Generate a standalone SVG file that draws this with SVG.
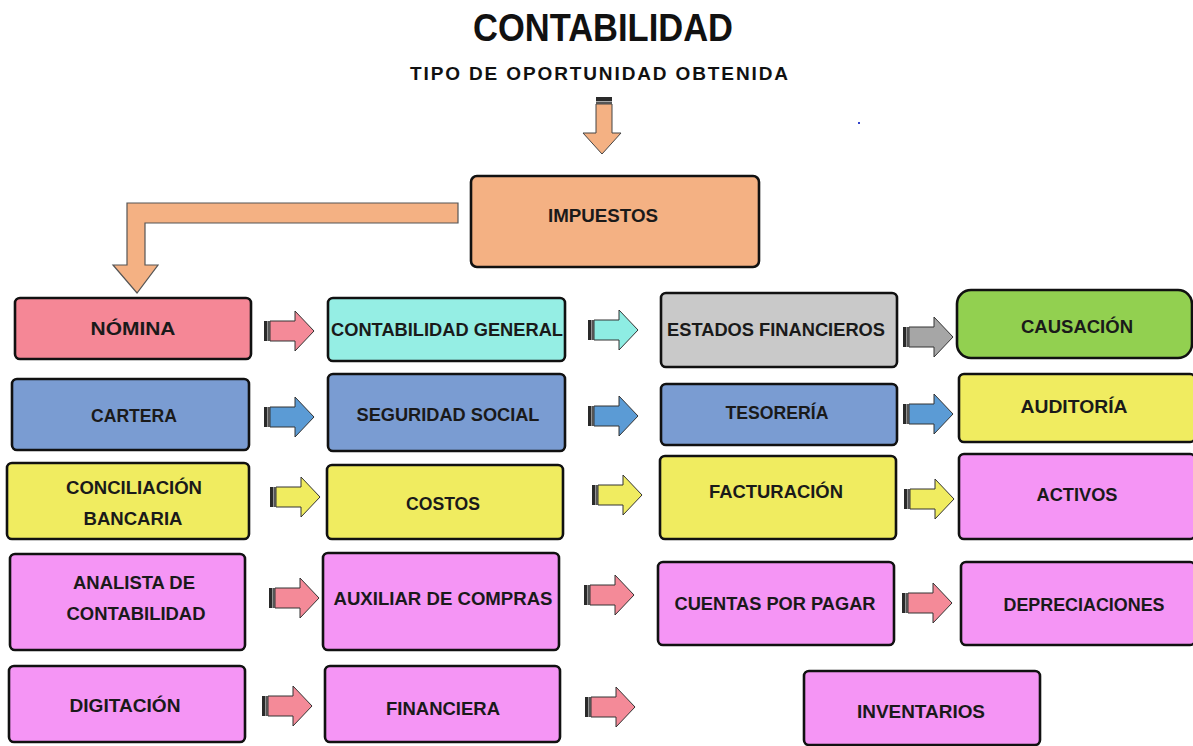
<svg xmlns="http://www.w3.org/2000/svg" xmlns:xlink="http://www.w3.org/1999/xlink" width="1193" height="746" viewBox="0 0 1193 746">
<style>
.box{stroke:#111;stroke-width:2.6}
.lbl{font-family:"Liberation Sans",Arial,sans-serif;font-weight:bold;font-size:19px;fill:#1a1a1a;text-anchor:middle}
.pink{fill:#F48A98}.cyan{fill:#8EEDE3}.gray{fill:#A6A6A6}.blue{fill:#5B9BD5}.yel{fill:#F0EC60}
</style>
<defs>
<g id="ra">
<path d="M6,10 H31 V0 L50,20 L31,40 V30 H6 Z" stroke="#333" stroke-width="1"/>
<rect x="0" y="10" width="3.5" height="20" fill="#2a2a2a"/>
<rect x="4" y="10" width="2" height="20" fill="#555"/>
</g>
</defs>
<rect width="1193" height="746" fill="#fff"/>
<g id="title">
<text x="603" y="41" font-family="'Liberation Sans',Arial,sans-serif" font-weight="bold" font-size="39" text-anchor="middle" textLength="260" lengthAdjust="spacingAndGlyphs" fill="#111">CONTABILIDAD</text>
<text x="599" y="80" font-family="'Liberation Sans',Arial,sans-serif" font-weight="bold" font-size="19" text-anchor="middle" textLength="378" lengthAdjust="spacing" fill="#111">TIPO DE OPORTUNIDAD OBTENIDA</text>
</g>
<rect x="858" y="122" width="2" height="2" fill="#3344cc"/>
<g id="connectors">
<g id="top-arrow">
<path d="M596,104 H612 V133 H621 L602,154 L583,133 H596 Z" fill="#F4B183" stroke="#444" stroke-width="1"/>
<rect x="596" y="97" width="16" height="4" fill="#2a2a2a"/>
<rect x="596" y="101.5" width="16" height="2.5" fill="#555"/>
</g>
<path d="M458,203 H127 V265 H113 L137,293 L158,265 H145 V223 H458 Z" fill="#F4B183" stroke="#555" stroke-width="1.2"/>
<g class="arr">
<use xlink:href="#ra" class="pink" transform="translate(264,311)"/>
<use xlink:href="#ra" class="cyan" transform="translate(588,310)"/>
<use xlink:href="#ra" class="gray" transform="translate(903,317)"/>
<use xlink:href="#ra" class="blue" transform="translate(264,397)"/>
<use xlink:href="#ra" class="blue" transform="translate(588,396)"/>
<use xlink:href="#ra" class="blue" transform="translate(903,394)"/>
<use xlink:href="#ra" class="yel" transform="translate(270,477)"/>
<use xlink:href="#ra" class="yel" transform="translate(592,475)"/>
<use xlink:href="#ra" class="yel" transform="translate(904,479)"/>
<use xlink:href="#ra" class="pink" transform="translate(269,578)"/>
<use xlink:href="#ra" class="pink" transform="translate(584,575)"/>
<use xlink:href="#ra" class="pink" transform="translate(902,583)"/>
<use xlink:href="#ra" class="pink" transform="translate(262,686)"/>
<use xlink:href="#ra" class="pink" transform="translate(585,687)"/>
</g>
</g>
<g id="impuestos"><rect class="box" x="471" y="176" width="288" height="91" rx="6" fill="#F4B183"/><text class="lbl" x="603" y="222" textLength="110" lengthAdjust="spacingAndGlyphs">IMPUESTOS</text></g>
<g id="nomina"><rect class="box" x="15" y="298" width="236" height="61" rx="5" fill="#F58796"/><text class="lbl" x="133" y="335" textLength="85" lengthAdjust="spacingAndGlyphs">NÓMINA</text></g>
<g id="contabilidad-general"><rect class="box" x="328" y="298" width="237" height="63" rx="5" fill="#95EEE4"/><text class="lbl" x="447" y="336" textLength="232" lengthAdjust="spacingAndGlyphs">CONTABILIDAD GENERAL</text></g>
<g id="estados-financieros"><rect class="box" x="661" y="293" width="236" height="74" rx="5" fill="#C9C9C9"/><text class="lbl" x="776" y="336" textLength="218" lengthAdjust="spacingAndGlyphs">ESTADOS FINANCIEROS</text></g>
<g id="causacion"><rect class="box" x="957" y="290" width="235" height="68" rx="14" fill="#92D050"/><text class="lbl" x="1077" y="333" textLength="112" lengthAdjust="spacingAndGlyphs">CAUSACIÓN</text></g>
<g id="cartera"><rect class="box" x="12" y="379" width="237" height="71" rx="5" fill="#7A9CD2"/><text class="lbl" x="134" y="422" textLength="86" lengthAdjust="spacingAndGlyphs">CARTERA</text></g>
<g id="seguridad-social"><rect class="box" x="328" y="374" width="237" height="77" rx="5" fill="#7A9CD2"/><text class="lbl" x="448" y="421" textLength="183" lengthAdjust="spacingAndGlyphs">SEGURIDAD SOCIAL</text></g>
<g id="tesoreria"><rect class="box" x="661" y="384" width="236" height="61" rx="5" fill="#7A9CD2"/><text class="lbl" x="777" y="419" textLength="103" lengthAdjust="spacingAndGlyphs">TESORERÍA</text></g>
<g id="auditoria"><rect class="box" x="959" y="374" width="236" height="68" rx="5" fill="#F0EC60"/><text class="lbl" x="1074" y="413" textLength="107" lengthAdjust="spacingAndGlyphs">AUDITORÍA</text></g>
<g id="conciliacion"><rect class="box" x="7" y="463" width="242" height="76" rx="5" fill="#F0EC60"/><text class="lbl" x="134" y="494" textLength="136" lengthAdjust="spacingAndGlyphs">CONCILIACIÓN</text><text class="lbl" x="133" y="525" textLength="99" lengthAdjust="spacingAndGlyphs">BANCARIA</text></g>
<g id="costos"><rect class="box" x="327" y="465" width="236" height="74" rx="5" fill="#F0EC60"/><text class="lbl" x="443" y="510" textLength="74" lengthAdjust="spacingAndGlyphs">COSTOS</text></g>
<g id="facturacion"><rect class="box" x="660" y="456" width="236" height="83" rx="5" fill="#F0EC60"/><text class="lbl" x="776" y="498" textLength="134" lengthAdjust="spacingAndGlyphs">FACTURACIÓN</text></g>
<g id="activos"><rect class="box" x="959" y="454" width="236" height="85" rx="5" fill="#F595F5"/><text class="lbl" x="1077" y="501" textLength="81" lengthAdjust="spacingAndGlyphs">ACTIVOS</text></g>
<g id="analista"><rect class="box" x="10" y="554" width="235" height="96" rx="5" fill="#F595F5"/><text class="lbl" x="134" y="589" textLength="122" lengthAdjust="spacingAndGlyphs">ANALISTA DE</text><text class="lbl" x="136" y="620" textLength="139" lengthAdjust="spacingAndGlyphs">CONTABILIDAD</text></g>
<g id="auxiliar-compras"><rect class="box" x="323" y="553" width="236" height="97" rx="5" fill="#F595F5"/><text class="lbl" x="443" y="605" textLength="219" lengthAdjust="spacingAndGlyphs">AUXILIAR DE COMPRAS</text></g>
<g id="cuentas-por-pagar"><rect class="box" x="658" y="562" width="236" height="83" rx="5" fill="#F595F5"/><text class="lbl" x="775" y="610" textLength="201" lengthAdjust="spacingAndGlyphs">CUENTAS POR PAGAR</text></g>
<g id="depreciaciones"><rect class="box" x="961" y="562" width="234" height="83" rx="5" fill="#F595F5"/><text class="lbl" x="1084" y="611" textLength="161" lengthAdjust="spacingAndGlyphs">DEPRECIACIONES</text></g>
<g id="digitacion"><rect class="box" x="9" y="666" width="236" height="76" rx="5" fill="#F595F5"/><text class="lbl" x="125" y="712" textLength="111" lengthAdjust="spacingAndGlyphs">DIGITACIÓN</text></g>
<g id="financiera"><rect class="box" x="325" y="666" width="235" height="76" rx="5" fill="#F595F5"/><text class="lbl" x="443" y="715" textLength="114" lengthAdjust="spacingAndGlyphs">FINANCIERA</text></g>
<g id="inventarios"><rect class="box" x="804" y="671" width="236" height="74" rx="5" fill="#F595F5"/><text class="lbl" x="921" y="718" textLength="128" lengthAdjust="spacingAndGlyphs">INVENTARIOS</text></g>
</svg>
